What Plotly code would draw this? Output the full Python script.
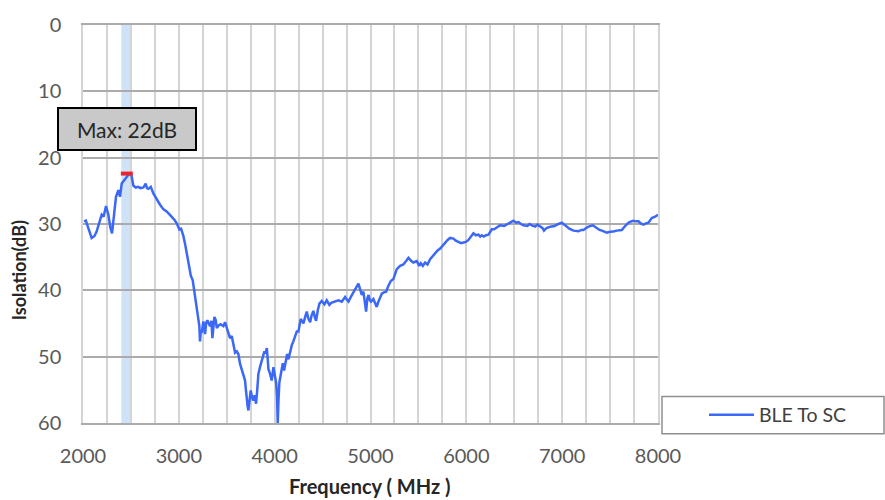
import plotly.graph_objects as go

freq_mhz = [2010, 2030, 2060, 2090, 2120, 2143, 2170, 2195, 2215, 2240, 2265, 2285, 2303, 2320, 2344, 2369, 2386, 2404, 2430, 2456, 2483, 2505, 2525, 2550, 2577, 2600, 2630, 2654, 2668, 2682, 2707, 2734, 2770, 2804, 2840, 2873, 2900, 2926, 2955, 2978, 3005, 3023, 3047, 3065, 3082, 3099, 3110, 3125, 3145, 3169, 3193, 3214, 3221, 3230, 3239, 3256, 3265, 3274, 3285, 3298, 3312, 3326, 3340, 3350, 3371, 3385, 3396, 3415, 3437, 3465, 3482, 3506, 3520, 3534, 3552, 3570, 3587, 3605, 3621, 3639, 3667, 3691, 3700, 3708, 3718, 3726, 3738, 3750, 3765, 3778, 3790, 3806, 3818, 3830, 3848, 3865, 3880, 3893, 3905, 3918, 3928, 3935, 3950, 3969, 3987, 4000, 4015, 4025, 4032, 4040, 4049, 4060, 4074, 4085, 4098, 4119, 4130, 4144, 4168, 4180, 4195, 4210, 4231, 4248, 4272, 4285, 4300, 4318, 4335, 4350, 4370, 4385, 4404, 4418, 4432, 4450, 4467, 4491, 4505, 4519, 4543, 4557, 4571, 4590, 4613, 4640, 4665, 4700, 4735, 4752, 4770, 4795, 4822, 4850, 4874, 4890, 4909, 4926, 4940, 4954, 4967, 4980, 4993, 5005, 5030, 5048, 5065, 5080, 5093, 5118, 5140, 5163, 5187, 5212, 5239, 5256, 5274, 5309, 5343, 5370, 5396, 5420, 5448, 5483, 5509, 5525, 5546, 5570, 5595, 5622, 5650, 5674, 5700, 5727, 5755, 5779, 5805, 5831, 5866, 5890, 5918, 5945, 5970, 5995, 6022, 6050, 6074, 6100, 6126, 6145, 6161, 6183, 6205, 6231, 6266, 6290, 6313, 6353, 6395, 6439, 6465, 6492, 6520, 6544, 6570, 6596, 6637, 6660, 6683, 6718, 6740, 6775, 6794, 6810, 6837, 6877, 6921, 6962, 6996, 7031, 7074, 7118, 7145, 7170, 7200, 7222, 7250, 7275, 7320, 7362, 7390, 7414, 7440, 7466, 7490, 7518, 7545, 7570, 7600, 7622, 7657, 7692, 7720, 7744, 7770, 7796, 7820, 7848, 7875, 7900, 7935, 7970, 8000]

isolation_db = [29.6, 29.5, 30.8, 32.1, 31.8, 31.1, 29.8, 28.6, 28.9, 27.3, 28.6, 30.5, 31.4, 29.0, 25.9, 24.9, 25.9, 23.9, 23.4, 22.9, 22.4, 22.6, 24.2, 24.5, 24.4, 24.6, 24.5, 23.9, 24.6, 24.7, 24.4, 25.4, 26.3, 27.1, 27.8, 28.1, 28.5, 28.9, 29.4, 29.9, 30.8, 30.7, 31.8, 33.0, 34.3, 35.8, 36.5, 37.8, 38.5, 41.2, 43.7, 45.4, 47.7, 46.0, 46.4, 44.7, 45.8, 46.6, 44.9, 44.5, 45.0, 45.4, 44.6, 47.2, 44.0, 44.5, 45.7, 45.3, 45.1, 45.4, 44.8, 45.9, 46.8, 47.2, 46.9, 48.5, 49.4, 49.2, 49.6, 51.1, 52.6, 53.6, 55.0, 56.6, 57.5, 58.1, 56.0, 55.1, 56.2, 56.6, 55.8, 57.1, 55.0, 52.6, 51.5, 50.6, 50.0, 49.2, 49.5, 48.7, 50.5, 51.9, 52.5, 53.6, 51.6, 52.5, 53.9, 56.0, 60.0, 56.5, 53.9, 53.0, 51.6, 51.0, 52.1, 50.1, 49.6, 50.4, 48.7, 48.2, 47.7, 47.0, 46.2, 46.2, 44.3, 44.6, 45.0, 44.0, 43.2, 44.2, 44.8, 43.8, 43.1, 44.0, 44.6, 43.0, 42.0, 41.6, 41.9, 42.1, 41.5, 41.8, 42.2, 41.9, 41.8, 41.7, 41.5, 41.7, 41.0, 41.4, 41.7, 41.0, 40.2, 39.6, 39.0, 39.7, 40.7, 40.2, 41.5, 43.2, 41.2, 40.7, 41.5, 41.7, 41.3, 41.9, 42.5, 41.8, 41.3, 40.5, 40.3, 40.2, 39.3, 38.6, 38.3, 37.5, 36.8, 36.3, 36.1, 35.6, 35.1, 35.5, 35.8, 35.6, 36.3, 35.9, 36.3, 35.8, 36.1, 35.3, 34.8, 34.3, 34.0, 33.7, 33.2, 32.8, 32.4, 32.1, 32.2, 32.5, 32.7, 32.9, 32.8, 32.7, 32.4, 31.9, 31.4, 31.7, 31.6, 31.9, 31.7, 31.9, 31.7, 31.6, 30.8, 30.8, 30.6, 30.2, 30.3, 29.9, 29.7, 29.5, 29.8, 29.7, 30.0, 30.2, 30.3, 30.0, 30.2, 30.4, 30.1, 30.4, 30.6, 31.0, 30.6, 30.4, 30.3, 30.0, 29.8, 30.2, 30.7, 31.0, 31.1, 31.1, 30.9, 30.9, 30.6, 30.4, 30.2, 30.7, 30.9, 31.0, 31.2, 31.3, 31.2, 31.2, 31.1, 31.0, 30.9, 30.9, 30.3, 29.8, 29.6, 29.5, 29.6, 29.6, 29.9, 30.1, 29.9, 29.8, 29.1, 28.9, 28.6]

series_name = "BLE To SC"
band_mhz = [2400, 2500]
max_marker_mhz = [2395, 2520]
max_marker_db = [22.4, 22.4]
max_label = "Max: 22dB"
x_tick_vals = [2000, 3000, 4000, 5000, 6000, 7000, 8000]
y_tick_vals = [0, 10, 20, 30, 40, 50, 60]

FONT = "Lato, 'Open Sans', sans-serif"
TICK = "#595959"
HGRID = "#ababab"
VGRID = "#d4d4d4"

L, R, T, B = 83, 227, 19, 77
W, H = 885, 500
PW, PH = W - L - R, H - T - B

def px_x(p):
    return (p - L) / PW

def px_y(p):
    return (H - B - p) / PH

fig = go.Figure()

fig.add_trace(go.Scatter(
    x=freq_mhz, y=isolation_db, mode="lines", name=series_name,
    line=dict(color="#3c68f8", width=2.5), showlegend=True,
))
fig.add_trace(go.Scatter(
    x=max_marker_mhz, y=max_marker_db, mode="lines",
    line=dict(color="#e8262e", width=4), showlegend=False, hoverinfo="skip",
))

fig.add_vrect(x0=band_mhz[0], x1=band_mhz[1], fillcolor="#cfe3f8", line_width=0,
              layer="below")

# legend box
fig.add_shape(type="rect", xref="paper", yref="paper",
              x0=px_x(662), x1=px_x(884), y0=px_y(434), y1=px_y(396),
              line=dict(color="#8f8f8f", width=1.5), fillcolor="white", layer="below")

fig.add_annotation(
    xref="paper", yref="paper", x=px_x(127), y=px_y(125),
    text=max_label, showarrow=False, font=dict(family=FONT, size=21, color="#262626"),
    bgcolor="#c9c9c9", bordercolor="#000000", borderwidth=2,
    width=134, height=38, xanchor="center", yanchor="middle",
)
fig.add_annotation(
    xref="paper", yref="paper", x=px_x(370), y=px_y(487),
    text="<b>Frequency ( MHz )</b>", showarrow=False,
    font=dict(family=FONT, size=20, color="#262626"), xanchor="center", yanchor="middle",
)
fig.add_annotation(
    xref="paper", yref="paper", x=px_x(19), y=px_y(268),
    text="<b>Isolation(dB)</b>", showarrow=False, textangle=-90,
    font=dict(family=FONT, size=18, color="#262626"), xanchor="center", yanchor="middle",
)

fig.update_layout(
    width=W, height=H,
    margin=dict(l=L, r=R, t=T, b=B, pad=0),
    paper_bgcolor="white", plot_bgcolor="white",
    font=dict(family=FONT, color=TICK),
    legend=dict(x=px_x(704), y=px_y(415), xanchor="left", yanchor="middle",
                bgcolor="rgba(0,0,0,0)", borderwidth=0, itemwidth=45,
                font=dict(family=FONT, size=19.5, color="#404040")),
)
fig.update_xaxes(
    range=[2000, 8000], tickvals=x_tick_vals, ticktext=[str(v) for v in x_tick_vals],
    showgrid=True, gridcolor=VGRID, gridwidth=1.5,
    minor=dict(dtick=250, tick0=2000, showgrid=True, gridcolor=VGRID, gridwidth=1.5),
    showline=True, linecolor=HGRID, linewidth=1.5, mirror=True,
    ticks="outside", ticklen=14, tickcolor="rgba(0,0,0,0)",
    tickfont=dict(family=FONT, size=20, color=TICK), zeroline=False,
)
fig.update_yaxes(
    range=[60, 0], tickvals=y_tick_vals, ticktext=[str(v) for v in y_tick_vals],
    showgrid=True, gridcolor=HGRID, gridwidth=1.5,
    showline=True, linecolor=VGRID, linewidth=1.5, mirror=True,
    ticks="outside", ticklen=16, tickcolor="rgba(0,0,0,0)",
    tickfont=dict(family=FONT, size=20, color=TICK), zeroline=False,
)

fig.write_html("out.html")
